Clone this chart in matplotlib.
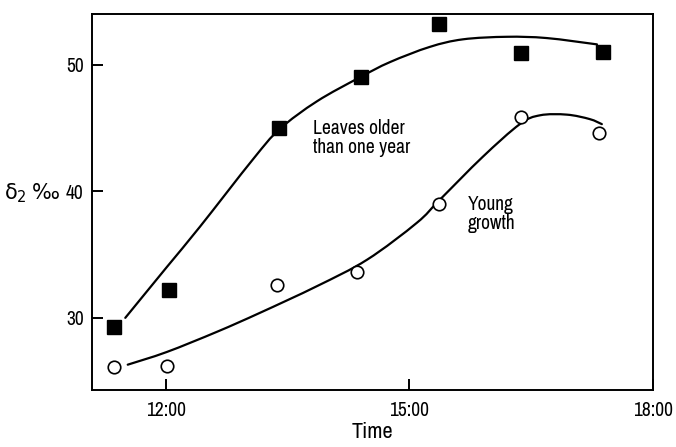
import matplotlib
matplotlib.use("Agg")
import numpy as np
import matplotlib.pyplot as plt
from matplotlib.path import Path
from matplotlib.patches import PathPatch

plt.rcParams['font.family'] = ['Archivo Narrow', 'DejaVu Sans']

# measured points (hour of day, delta value)
old_time = [11.36, 12.04, 13.39, 14.40, 15.36, 16.38, 17.38]
old_delta = [29.3, 32.2, 45.0, 49.0, 53.2, 50.9, 51.0]

young_time = [11.36, 12.01, 13.37, 14.35, 15.36, 16.38, 17.34]
young_delta = [26.1, 26.2, 32.6, 33.6, 39.0, 45.9, 44.6]

# hand-drawn trend lines
old_fit_t = [11.50, 12.01, 12.42, 13.07, 13.40, 13.86, 14.39, 14.76, 15.25,
             15.66, 16.20, 16.69, 17.31]
old_fit_d = [30.0, 34.0, 37.2, 42.5, 44.9, 47.1, 49.0, 50.2, 51.4,
             52.0, 52.2, 52.1, 51.6]

young_fit_t = [11.53, 12.01, 12.63, 13.16, 13.86, 14.48, 15.09, 15.37, 15.90, 16.36,
               16.61, 16.94, 17.22, 17.37]
young_fit_d = [26.3, 27.3, 28.9, 30.4, 32.5, 34.6, 37.5, 39.3, 42.7, 45.3,
               46.0, 46.05, 45.7, 45.3]

hour_ticks = [12, 15, 18]
hour_labels = ['12:00', '15:00', '18:00']
delta_ticks = [30, 40, 50]


def smooth_line(ax, xs, ys, **kw):
    # Catmull-Rom through the given points, drawn as cubic Bezier segments
    pts = np.column_stack([xs, ys])
    n = len(pts)
    verts = [pts[0]]
    codes = [Path.MOVETO]
    for i in range(n - 1):
        p0 = pts[max(i - 1, 0)]
        p1 = pts[i]
        p2 = pts[i + 1]
        p3 = pts[min(i + 2, n - 1)]
        verts += [p1 + (p2 - p0) / 6, p2 - (p3 - p1) / 6, p2]
        codes += [Path.CURVE4] * 3
    ax.add_patch(PathPatch(Path(verts, codes), fill=False, **kw))


fig = plt.figure(figsize=(6.76, 4.47), dpi=100)
ax = fig.add_axes([92 / 676, 57 / 447, 561 / 676, 376 / 447])

smooth_line(ax, old_fit_t, old_fit_d, color='black', lw=1.6, capstyle='round')
smooth_line(ax, young_fit_t, young_fit_d, color='black', lw=1.6, capstyle='round')

ax.plot(old_time, old_delta, ls='none', marker='s', ms=10, color='black', zorder=3)
ax.plot(young_time, young_delta, ls='none', marker='o', ms=9, mfc='white',
        mec='black', mew=1.2, zorder=3)

ax.text(13.81, 44.2, 'Leaves older\nthan one year', fontsize=14, va='center',
        ha='left', linespacing=1.05)
ax.text(15.72, 38.2, 'Young\ngrowth', fontsize=14, va='center', ha='left',
        linespacing=1.05)

ax.set_xlim(11.09, 18.0)
ax.set_ylim(24.3, 54.0)
ax.set_xticks(hour_ticks)
ax.set_xticklabels(hour_labels)
ax.set_yticks(delta_ticks)
ax.tick_params(direction='in', length=8, width=1.4, labelsize=14)
ax.tick_params(axis='y', pad=6)
ax.tick_params(axis='x', pad=8)
for sp in ax.spines.values():
    sp.set_linewidth(1.4)

ax.set_xlabel('Time', fontsize=16, labelpad=1)
fig.text(4 / 676, 1 - 193 / 447, 'δ$_2$\u2009‰', fontsize=15, va='center',
         ha='left', family='DejaVu Sans')

fig.savefig('out.png', dpi=100)
